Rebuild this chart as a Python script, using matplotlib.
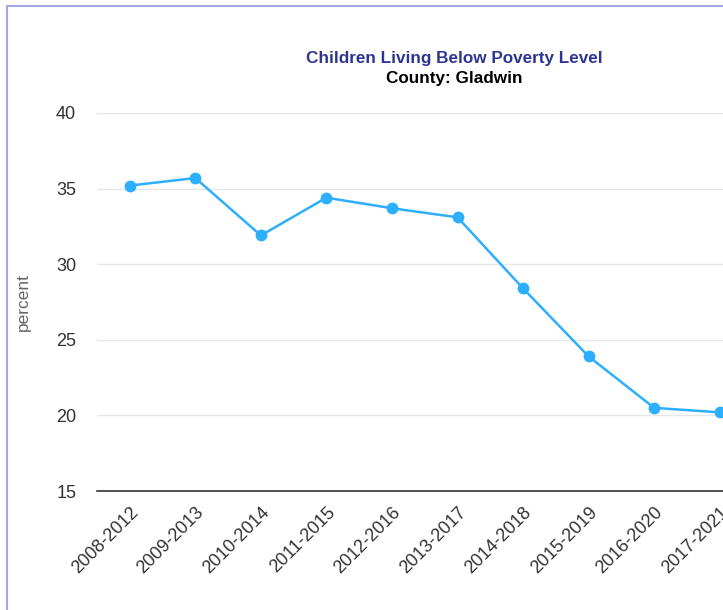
import matplotlib
matplotlib.use("Agg")
import matplotlib.pyplot as plt
from matplotlib.patches import Rectangle

plt.rcParams['font.family'] = ['Liberation Sans', 'DejaVu Sans']

periods = ["2008-2012", "2009-2013", "2010-2014", "2011-2015", "2012-2016",
           "2013-2017", "2014-2018", "2015-2019", "2016-2020", "2017-2021"]
extra_labels = ["2018-2022"]
percent = [35.2, 35.7, 31.9, 34.4, 33.7, 33.1, 28.4, 23.9, 20.5, 20.2]
yticks = [15, 20, 25, 30, 35, 40]

W, H = 723, 610
fig = plt.figure(figsize=(W / 100, H / 100), dpi=100)
fig.patch.set_facecolor('white')

# outer border (chart container, cut off at right/bottom)
fig.add_artist(Rectangle((7 / W, -0.1), 1.2, 1 - 6 / H + 0.1, transform=fig.transFigure,
                         fill=False, edgecolor='#a3a8e0', linewidth=1.5))

ax = fig.add_axes([97 / W, (H - 491) / H, (W - 97) / W, (491 - 113) / H])
x = list(range(len(periods)))
ax.plot(x, percent, color='#2caffe', linewidth=1.8, marker='o', markersize=8.5,
        markeredgewidth=0, zorder=3, clip_on=False)

ax.set_ylim(15, 40)
ax.set_yticks(yticks)
ax.set_yticklabels([str(v) for v in yticks])
all_labels = periods + extra_labels
ax.set_xticks(list(range(len(all_labels))))
ax.set_xticklabels(all_labels, rotation=45, ha='right', rotation_mode='anchor')
ax.set_xlim(-0.5, 9.05)

ax.grid(axis='y', color='#e6e6e6', linewidth=1)
ax.set_axisbelow(True)
for s in ['top', 'right', 'left']:
    ax.spines[s].set_visible(False)
ax.spines['bottom'].set_color('#333333')
ax.spines['bottom'].set_linewidth(1.2)
ax.tick_params(axis='y', length=0, pad=15, labelsize=13, labelcolor='#333333')
ax.tick_params(axis='x', length=0, pad=9, labelsize=13, labelcolor='#333333')
ax.set_ylabel('percent', fontsize=12.5, color='#666666', labelpad=18)

fig.text(454 / W, 1 - 58 / H, 'Children Living Below Poverty Level', ha='center', va='center',
         fontsize=12.3, fontweight='bold', color='#2e3591')
fig.text(454 / W, 1 - 78 / H, 'County: Gladwin', ha='center', va='center',
         fontsize=12.3, fontweight='bold', color='#000000')

fig.savefig('out.png', dpi=100)
